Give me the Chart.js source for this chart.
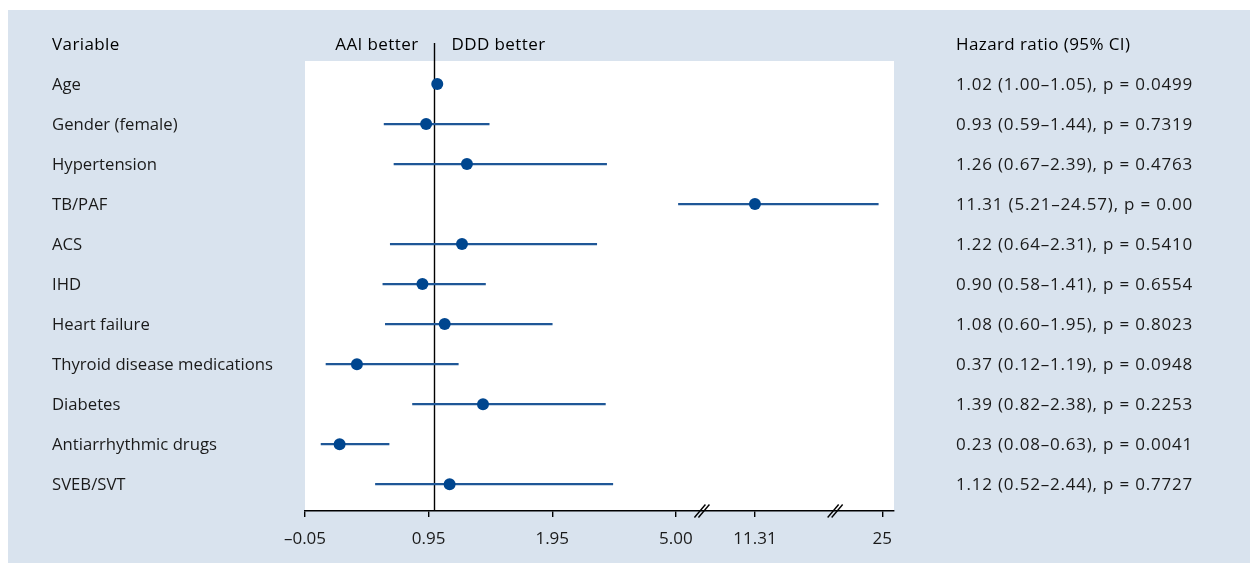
<!DOCTYPE html>
<html>
<head>
<meta charset="utf-8">
<script src="https://cdn.jsdelivr.net/npm/chart.js@4.4.1/dist/chart.umd.min.js"></script>
<style>
  html, body { margin: 0; padding: 0; background: #fff; }
  #wrap { width: 1250px; height: 563px; }
</style>
</head>
<body>
<div id="wrap"><canvas id="forestChart" width="1250" height="563"></canvas></div>
<script>
// Datos del forest plot (AAI vs DDD)
const variables = ['Age', 'Gender (female)', 'Hypertension', 'TB/PAF', 'ACS', 'IHD', 'Heart failure',
    'Thyroid disease medications', 'Diabetes', 'Antiarrhythmic drugs', 'SVEB/SVT'];
const hazardRatio = [1.02, 0.93, 1.26, 11.31, 1.22, 0.90, 1.08, 0.37, 1.39, 0.23, 1.12];
const ciLower = [1.00, 0.59, 0.67, 5.21, 0.64, 0.58, 0.60, 0.12, 0.82, 0.08, 0.52];
const ciUpper = [1.05, 1.44, 2.39, 24.57, 2.31, 1.41, 1.95, 1.19, 2.38, 0.63, 2.44];
const pValues = ['0.0499', '0.7319', '0.4763', '0.00', '0.5410', '0.6554', '0.8023', '0.0948', '0.2253', '0.0041', '0.7727'];
const tickValues = [-0.05, 0.95, 1.95, 5.00, 11.31, 25];
const tickLabels = ['\u20130.05', '0.95', '1.95', '5.00', '11.31', '25'];
const refValue = 1;

const FONT = '"Open Sans", "Noto Sans", sans-serif';
const PANEL = '#d9e3ee';
const DOT = '#00468f';
const LINE = '#1f5797';

// Eje con cortes: lineal hasta 5.00, luego dos tramos comprimidos
const segValues = [5.00, 11.31, 25];
const segUnits = [2.95, 3.59, 4.62];
function toAxis(v) {
    if (v < segValues[0]) return v;
    for (let i = 1; i < segValues.length; i++) {
        if (v <= segValues[i] || i === segValues.length - 1) {
            const t = (v - segValues[i - 1]) / (segValues[i] - segValues[i - 1]);
            return segUnits[i - 1] + t * (segUnits[i] - segUnits[i - 1]);
        }
    }
}

const forestPlugin = {
    id: 'forest',
    beforeDraw(chart) {
        const { ctx, chartArea: a, width, height } = chart;
        ctx.save();
        ctx.fillStyle = '#fff';
        ctx.fillRect(0, 0, width, height);
        ctx.fillStyle = PANEL;
        ctx.fillRect(8, 10, width - 8, height - 10);
        ctx.fillStyle = '#fff';
        ctx.fillRect(a.left, a.top, a.right - a.left, a.bottom - a.top);
        ctx.restore();
    },
    beforeDatasetsDraw(chart) {
        const { ctx, chartArea: a } = chart;
        const x = Math.round(chart.scales.x.getPixelForValue(toAxis(refValue))) - 0.5;
        ctx.save();
        ctx.strokeStyle = '#000';
        ctx.lineWidth = 1.4;
        ctx.beginPath();
        ctx.moveTo(x, a.top - 18);
        ctx.lineTo(x, a.bottom);
        ctx.stroke();
        ctx.restore();
    },
    afterDraw(chart) {
        const { ctx, chartArea: a } = chart;
        const xs = chart.scales.x, ys = chart.scales.y;
        const refX = Math.round(xs.getPixelForValue(toAxis(refValue))) - 0.5;
        const headY = a.top - 16;
        ctx.save();
        ctx.textBaseline = 'middle';
        // cabeceras
        ctx.font = '500 17px ' + FONT;
        ctx.letterSpacing = '0.4px';
        ctx.fillStyle = '#000';
        ctx.textAlign = 'left';
        ctx.fillText('Variable', 52, headY);
        ctx.fillText('Hazard ratio (95% CI)', 956, headY);
        ctx.fillText('DDD better', refX + 17, headY);
        ctx.textAlign = 'right';
        ctx.fillText('AAI better', refX - 16, headY);
        // filas
        ctx.fillStyle = '#1a1a1a';
        ctx.textAlign = 'left';
        variables.forEach((name, i) => {
            const y = ys.getPixelForValue(i) + 1;
            ctx.font = '16.7px ' + FONT;
            ctx.letterSpacing = '0px';
            ctx.fillText(name, 52, y);
            const txt = hazardRatio[i].toFixed(2) + ' (' + ciLower[i].toFixed(2) + '\u2013' +
                ciUpper[i].toFixed(2) + '), p = ' + pValues[i];
            ctx.font = '17px ' + FONT;
            ctx.letterSpacing = '0.8px';
            ctx.fillText(txt, 956, y);
        });
        ctx.letterSpacing = '0px';
        // marcas de corte en el eje
        const tp = tickValues.map(v => xs.getPixelForValue(toAxis(v)));
        const cuts = [tp[3] + (tp[4] - tp[3]) * 0.33, tp[4] + (tp[5] - tp[4]) * 0.63];
        ctx.strokeStyle = '#000';
        ctx.lineWidth = 1.4;
        cuts.forEach(cx => {
            [-2, 2].forEach(off => {
                ctx.beginPath();
                ctx.moveTo(cx + off - 5.5, a.bottom + 6.5);
                ctx.lineTo(cx + off + 5.5, a.bottom - 6.5);
                ctx.stroke();
            });
        });
        ctx.restore();
    }
};

const ctx = document.getElementById('forestChart').getContext('2d');
const forestChart = new Chart(ctx, {
    data: {
        datasets: [{
            type: 'scatter',
            label: 'HR',
            data: hazardRatio.map((v, i) => ({ x: toAxis(v), y: i })),
            backgroundColor: DOT,
            borderColor: DOT,
            pointRadius: 6,
            pointBorderWidth: 0,
            order: 0
        }, {
            type: 'bar',
            label: 'IC 95%',
            indexAxis: 'y',
            data: ciLower.map((v, i) => ({ x: [toAxis(v), toAxis(ciUpper[i])], y: i })),
            backgroundColor: LINE,
            barThickness: 1.6,
            borderWidth: 0,
            borderSkipped: false,
            order: 1
        }]
    },
    options: {
        responsive: false,
        devicePixelRatio: 1,
        animation: false,
        layout: { padding: { left: 305, right: 356, top: 61, bottom: 0 } },
        plugins: {
            legend: { display: false },
            tooltip: { enabled: false }
        },
        scales: {
            x: {
                type: 'linear',
                min: -0.05,
                max: 4.715,
                afterBuildTicks(scale) {
                    scale.ticks = tickValues.map(v => ({ value: toAxis(v) }));
                },
                afterFit(scale) { scale.height = 52; },
                grid: { drawOnChartArea: false, drawTicks: true, tickLength: 6, color: '#000', lineWidth: 1.4 },
                border: { display: true, color: '#000', width: 1.4 },
                ticks: {
                    callback: (val, i) => tickLabels[i],
                    font: { family: FONT, size: 17 },
                    color: '#1a1a1a',
                    padding: 12,
                    maxRotation: 0,
                    autoSkip: false
                }
            },
            y: {
                type: 'linear',
                reverse: true,
                min: -0.575,
                max: 10.67,
                offset: false,
                display: false
            }
        }
    },
    plugins: [forestPlugin]
});
</script>
</body>
</html>
